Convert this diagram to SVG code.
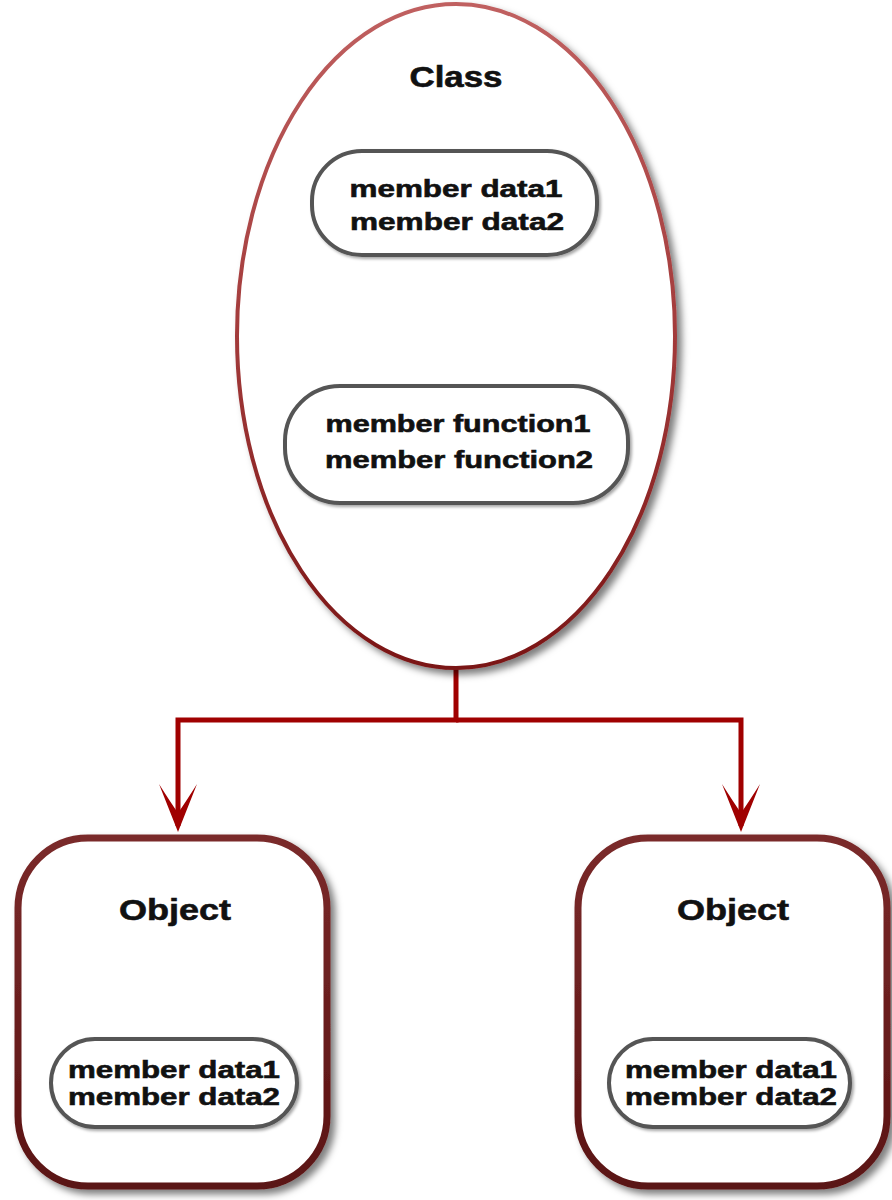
<svg xmlns="http://www.w3.org/2000/svg" width="892" height="1200" viewBox="0 0 892 1200">
<style>
.t{font-family:"Liberation Sans",Arial,sans-serif;font-weight:bold;fill:#111;stroke:#111;stroke-width:0.6;text-anchor:middle}
.title{font-size:29px}
.item{font-size:24px}
.pill{fill:#fff;stroke:#555;stroke-width:4}
.obj{fill:#fff;stroke:url(#objStroke);stroke-width:7}
.conn{fill:none;stroke:#a00000;stroke-width:5;stroke-linejoin:miter}
.head{fill:#a00000}
</style>
<defs>
<linearGradient id="ellStroke" x1="0" y1="0" x2="0" y2="1">
<stop offset="0" stop-color="#c06060"/>
<stop offset="0.5" stop-color="#a23a3a"/>
<stop offset="1" stop-color="#7a1515"/>
</linearGradient>
<linearGradient id="objStroke" x1="0" y1="0" x2="0" y2="1">
<stop offset="0" stop-color="#7a2a2a"/>
<stop offset="1" stop-color="#5a1212"/>
</linearGradient>
<filter id="shadow" x="-10%" y="-10%" width="130%" height="130%">
<feDropShadow dx="5" dy="5" stdDeviation="3.5" flood-color="#000" flood-opacity="0.5"/>
</filter>
<filter id="softshadow" x="-10%" y="-10%" width="130%" height="130%">
<feDropShadow dx="2" dy="2" stdDeviation="1.5" flood-color="#000" flood-opacity="0.35"/>
</filter>
</defs>
<rect width="892" height="1200" fill="#fff"/>

<g id="connectors">
<path class="conn" d="M456,668 V720 H178 V826"/>
<path class="conn" d="M456,720 H741 V826"/>
<path class="head" d="M178,832 L159,784 Q171,803 178,813 Q185,803 197,784 Z"/>
<path class="head" d="M741,832 L722,784 Q734,803 741,813 Q748,803 760,784 Z"/>
</g>

<g id="class">
<ellipse cx="456" cy="336" rx="219" ry="332" fill="#fff" stroke="url(#ellStroke)" stroke-width="4" filter="url(#shadow)"/>
<text class="t title" x="456" y="87" textLength="93" lengthAdjust="spacingAndGlyphs">Class</text>
<g id="class-data">
<rect class="pill" x="312" y="151" width="285" height="104" rx="50" filter="url(#softshadow)"/>
<text class="t item" x="456" y="197" textLength="213" lengthAdjust="spacingAndGlyphs">member data1</text>
<text class="t item" x="457" y="230" textLength="214" lengthAdjust="spacingAndGlyphs">member data2</text>
</g>
<g id="class-functions">
<rect class="pill" x="285" y="386" width="343" height="117" rx="55" filter="url(#softshadow)"/>
<text class="t item" x="458" y="432" textLength="265" lengthAdjust="spacingAndGlyphs">member function1</text>
<text class="t item" x="459" y="468" textLength="268" lengthAdjust="spacingAndGlyphs">member function2</text>
</g>
</g>

<g id="object-left">
<rect class="obj" x="18" y="838" width="309" height="348" rx="70" filter="url(#shadow)"/>
<text class="t title" x="175" y="920" textLength="112" lengthAdjust="spacingAndGlyphs">Object</text>
<rect class="pill" x="51" y="1039" width="246" height="88" rx="44" filter="url(#softshadow)"/>
<text class="t item" x="174" y="1078" textLength="212" lengthAdjust="spacingAndGlyphs">member data1</text>
<text class="t item" x="174" y="1105" textLength="212" lengthAdjust="spacingAndGlyphs">member data2</text>
</g>

<g id="object-right">
<rect class="obj" x="578" y="838" width="309" height="348" rx="70" filter="url(#shadow)"/>
<text class="t title" x="733" y="920" textLength="112" lengthAdjust="spacingAndGlyphs">Object</text>
<rect class="pill" x="609" y="1039" width="241" height="88" rx="44" filter="url(#softshadow)"/>
<text class="t item" x="731" y="1078" textLength="212" lengthAdjust="spacingAndGlyphs">member data1</text>
<text class="t item" x="731" y="1105" textLength="212" lengthAdjust="spacingAndGlyphs">member data2</text>
</g>
</svg>
